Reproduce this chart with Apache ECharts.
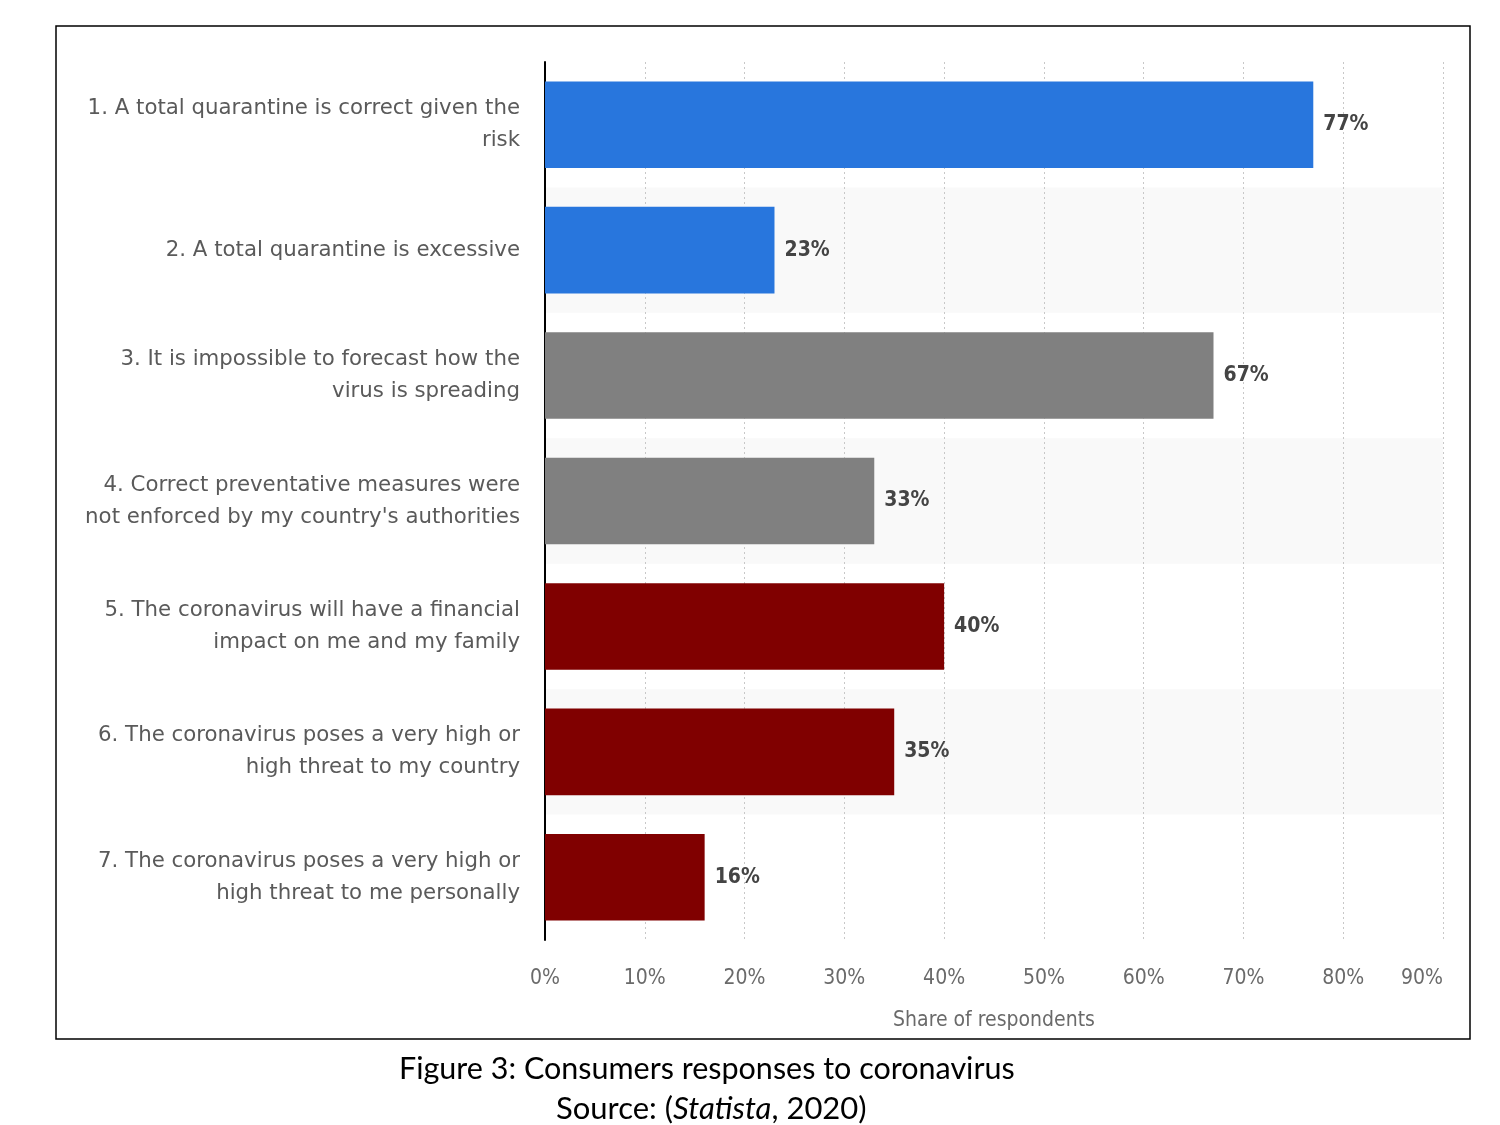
<!DOCTYPE html>
<html>
<head>
<meta charset="utf-8">
<script src="https://cdn.jsdelivr.net/npm/echarts@6/dist/echarts.min.js"></script>
<style>
html,body{margin:0;padding:0;background:#fff;}
#chart{width:1500px;height:1125px;}
</style>
</head>
<body>
<div id="chart"></div>
<script>
const categories = [
  "1. A total quarantine is correct given the\nrisk",
  "2. A total quarantine is excessive",
  "3. It is impossible to forecast how the\nvirus is spreading",
  "4. Correct preventative measures were\nnot enforced by my country's authorities",
  "5. The coronavirus will have a financial\nimpact on me and my family",
  "6. The coronavirus poses a very high or\nhigh threat to my country",
  "7. The coronavirus poses a very high or\nhigh threat to me personally"
];
const values = [77, 23, 67, 33, 40, 35, 16];
const barColors = ["#2876dd", "#2876dd", "#808080", "#808080", "#800000", "#800000", "#800000"];
const xTicks = [0, 10, 20, 30, 40, 50, 60, 70, 80, 90];
const axisName = "Share of respondents";
const captionTitle = "Figure 3: Consumers responses to coronavirus";

const chart = echarts.init(document.getElementById('chart'));
const condFont = "'DejaVu Sans Condensed', 'DejaVu Sans', sans-serif";
const wideFont = "'DejaVu Sans', sans-serif";
chart.setOption({
  animation: false,
  backgroundColor: '#fff',
  grid: { left: 545, right: 57, top: 62, bottom: 185, containLabel: false },
  xAxis: {
    type: 'value', min: xTicks[0], max: xTicks[xTicks.length - 1], interval: 10,
    axisLine: { show: false }, axisTick: { show: false },
    splitLine: { show: true, lineStyle: { color: '#c8c8c8', type: [2, 3], width: 1 } },
    axisLabel: { formatter: '{value}%', color: '#6a6a6a', fontSize: 21, margin: 28, fontFamily: condFont, alignMaxLabel: 'right' },
    name: axisName, nameLocation: 'middle', nameGap: 70,
    nameTextStyle: { color: '#6a6a6a', fontSize: 21, fontFamily: condFont }
  },
  yAxis: {
    type: 'category', data: categories, inverse: true,
    axisLine: { show: true, lineStyle: { color: '#000', width: 2 } },
    axisTick: { show: false },
    splitArea: { show: true, areaStyle: { color: ['rgba(255,255,255,0)', '#f9f9f9'] } },
    axisLabel: { color: '#5a5a5a', fontSize: 21.3, margin: 25, lineHeight: 32, align: 'right', fontFamily: wideFont }
  },
  series: [{
    type: 'bar',
    data: values.map((v, i) => ({ value: v, itemStyle: { color: barColors[i] } })),
    barWidth: '69%',
    label: {
      show: true, position: 'right', distance: 10, formatter: '{c}%',
      color: '#444', fontSize: 21, fontWeight: 'bold', fontFamily: condFont
    }
  }],
  graphic: [
    { type: 'rect', shape: { x: 56, y: 26, width: 1414, height: 1013 },
      style: { fill: 'none', stroke: '#000', lineWidth: 1.5 }, z: 100 },
    { type: 'text', left: 399, top: 1054,
      style: { text: captionTitle, fill: '#000', font: "30.5px Lato, 'Open Sans', sans-serif" } },
    { type: 'text', left: 556, top: 1093,
      style: {
        text: '{a|Source: (}{i|Statista}{a|, 2020)}',
        rich: {
          a: { fontSize: 31, fontFamily: "Lato, 'Open Sans', sans-serif", color: '#000' },
          i: { fontSize: 31, fontFamily: "Lato, 'Open Sans', sans-serif", fontStyle: 'italic', color: '#000' }
        }
      } }
  ]
});
</script>
</body>
</html>
